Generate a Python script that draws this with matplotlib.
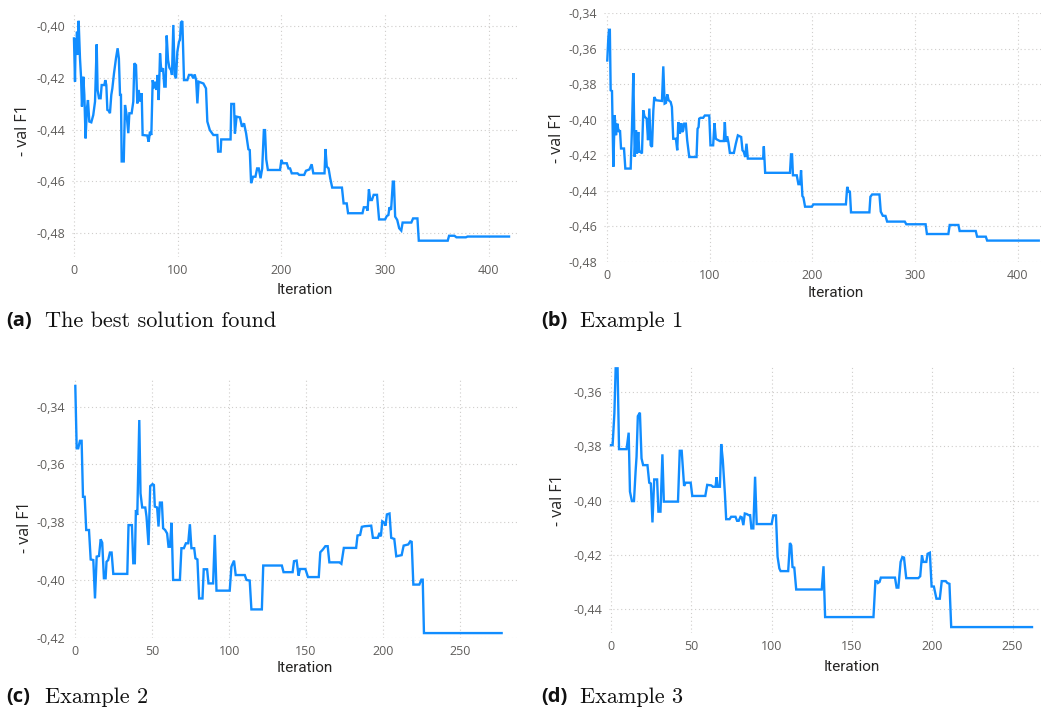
import matplotlib
matplotlib.use("Agg")
import matplotlib.pyplot as plt
from matplotlib.ticker import FuncFormatter

# ---------------------------------------------------------------
# Datos: iteracion y valor (- val F1)
# ---------------------------------------------------------------

# (a) The best solution found
a_iter = [
    0, 1, 1.6, 2.2, 2.9, 3.6, 4.5, 5.8, 6.8, 7.7,
    9, 10, 11.2, 12.5, 13.5, 14.8, 16.7, 18.6, 20.3, 21.9,
    22.8, 24.1, 25.7, 26.7, 29.3, 30.2, 31.2, 32.2, 33.8, 34.7,
    36, 37, 38.6, 40.5, 42.1, 43.3, 44.4, 45.3, 46, 48,
    49.2, 50.8, 52.4, 53.4, 55.6, 57.2, 58.2, 59.8, 61.1, 62.4,
    63.7, 65.3, 66.2, 70.7, 72, 73.3, 74.6, 75.9, 77.2, 78.5,
    79.7, 80.7, 81.7, 83, 84.2, 85.9, 87.1, 88.4, 89.4, 90.7,
    92, 93.5, 94.5, 95.8, 97.1, 98.4, 99.7, 101.3, 102.2, 103.2,
    104.5, 106.1, 109.3, 110.9, 113.5, 115, 116.4, 117.8, 119, 120.2,
    124.8, 127.3, 128.6, 131, 134.4, 138.2, 139, 141.4, 142, 151,
    151.7, 154.3, 155.2, 156.8, 160, 162, 164, 166, 168.2, 169.5,
    170.8, 172.7, 175, 176.6, 178.2, 179.9, 181.5, 183.1, 184.2, 185.4,
    187, 198.7, 200, 201.3, 205.2, 206.8, 208.4, 210, 215.6, 217.2,
    222, 223.7, 227, 229.2, 230.8, 241.6, 242.5, 243.8, 245.5, 247.1,
    249, 258.4, 260, 263, 264.3, 278.2, 279.5, 282.1, 283.1, 284.4,
    285.7, 287.3, 289, 292.2, 294.2, 300, 301.6, 303.2, 304.2, 305.8,
    307.5, 308.5, 309.7, 311.7, 313.6, 315.6, 316.9, 325.3, 327, 331.2,
    332.5, 360.4, 361.7, 366.9, 368.8, 377.9, 379.5, 419.5,
]
a_val = [
    -0.4048, -0.4215, -0.4048, -0.4112, -0.4022, -0.4112, -0.3980, -0.4125, -0.4196, -0.4311,
    -0.4196, -0.4266, -0.4434, -0.4318, -0.4286, -0.4369, -0.4372, -0.4344, -0.4292, -0.4071,
    -0.4247, -0.4279, -0.4279, -0.4228, -0.4228, -0.4209, -0.4228, -0.4324, -0.4328, -0.4337,
    -0.4266, -0.4241, -0.4183, -0.4125, -0.4086, -0.4125, -0.4266, -0.4266, -0.4523, -0.4523,
    -0.4305, -0.4344, -0.4414, -0.4337, -0.4337, -0.4292, -0.4144, -0.4151, -0.4299, -0.4247,
    -0.4292, -0.4260, -0.4421, -0.4423, -0.4447, -0.4408, -0.4421, -0.4209, -0.4241, -0.4215,
    -0.4247, -0.4189, -0.4286, -0.4106, -0.4176, -0.4163, -0.4234, -0.4234, -0.4037, -0.4131,
    -0.4161, -0.4170, -0.4189, -0.3996, -0.4189, -0.4202, -0.4099, -0.4060, -0.4054, -0.3986,
    -0.3981, -0.4209, -0.4209, -0.4189, -0.4189, -0.4202, -0.4187, -0.4209, -0.4299, -0.4215,
    -0.4222, -0.4241, -0.4369, -0.4402, -0.4421, -0.4421, -0.4485, -0.4485, -0.4438, -0.4438,
    -0.4301, -0.4301, -0.4415, -0.4350, -0.4353, -0.4389, -0.4376, -0.4415, -0.4476, -0.4479,
    -0.4607, -0.4582, -0.4582, -0.4550, -0.4550, -0.4588, -0.4550, -0.4402, -0.4402, -0.4515,
    -0.4556, -0.4556, -0.4517, -0.4530, -0.4530, -0.4550, -0.4550, -0.4569, -0.4569, -0.4575,
    -0.4575, -0.4559, -0.4554, -0.4534, -0.4569, -0.4569, -0.4475, -0.4543, -0.4550, -0.4588,
    -0.4624, -0.4624, -0.4685, -0.4685, -0.4723, -0.4723, -0.4700, -0.4700, -0.4713, -0.4631,
    -0.4672, -0.4672, -0.4652, -0.4652, -0.4747, -0.4747, -0.4734, -0.4730, -0.4700, -0.4710,
    -0.4601, -0.4601, -0.4736, -0.4749, -0.4781, -0.4790, -0.4759, -0.4759, -0.4743, -0.4743,
    -0.4829, -0.4829, -0.4810, -0.4810, -0.4816, -0.4816, -0.4813, -0.4813,
]

# (b) Example 1
b_iter = [
    0, 1.0, 1.65, 2.5, 3.3, 4.6, 5.9, 7.2, 8.5, 9.8,
    11.1, 12.4, 13.4, 16.3, 17.6, 22.8, 24.1, 25.4, 26.7, 28,
    28.9, 30.2, 31.2, 32.5, 33.8, 35.1, 36.4, 37.4, 38.4, 39.7,
    41, 42.3, 43.6, 44.9, 45.8, 47.5, 53.3, 54.6, 55.9, 57.2,
    58.5, 59.8, 61.8, 63, 64.3, 66.9, 68.2, 69.2, 70.8, 72.1,
    73, 74, 75, 76.6, 77.9, 79.9, 87, 88, 89, 89.6,
    90.9, 93.5, 95.1, 99.4, 100.6, 103.2, 104.5, 105.8, 107.1, 109.7,
    113.6, 114.6, 115.6, 116.9, 118.2, 119.5, 123.4, 125.3, 127.3, 130.5,
    131.8, 133.1, 134.4, 135.7, 137, 151.9, 152.6, 153.9, 178.1, 179.1,
    180.1, 181, 184.7, 186.3, 187.9, 188.9, 190.2, 191.2, 192.8, 199.3,
    201, 232.6, 233.9, 235.2, 236.5, 237.6, 255.5, 256.5, 258.2, 265.3,
    266.6, 268.6, 271.2, 272.8, 290, 291.5, 310.3, 311.6, 332.5, 333.8,
    342.3, 343.5, 359.2, 360.5, 369, 370.3, 420.6,
]
b_val = [
    -0.3666, -0.3540, -0.3493, -0.3493, -0.3834, -0.3838, -0.4265, -0.3975, -0.4087, -0.4022,
    -0.4069, -0.4059, -0.4162, -0.4162, -0.4275, -0.4275, -0.4040, -0.3737, -0.4209, -0.4059,
    -0.4190, -0.4069, -0.4181, -0.4181, -0.4190, -0.3947, -0.3984, -0.3988, -0.3994, -0.4115,
    -0.3937, -0.4143, -0.4153, -0.3947, -0.3872, -0.3890, -0.3894, -0.3699, -0.3909, -0.3905,
    -0.3857, -0.3890, -0.3900, -0.3928, -0.4107, -0.4107, -0.4172, -0.4013, -0.4079, -0.4019,
    -0.4069, -0.4060, -0.4022, -0.4022, -0.4116, -0.4210, -0.4210, -0.4051, -0.4041, -0.3994,
    -0.3989, -0.3989, -0.3976, -0.3976, -0.4144, -0.4144, -0.4019, -0.4107, -0.4112, -0.4120,
    -0.4120, -0.4013, -0.4125, -0.4093, -0.4131, -0.4187, -0.4187, -0.4135, -0.4088, -0.4097,
    -0.4172, -0.4181, -0.4210, -0.4135, -0.4219, -0.4219, -0.4150, -0.4299, -0.4299, -0.4195,
    -0.4195, -0.4313, -0.4313, -0.4363, -0.4363, -0.4285, -0.4430, -0.4438, -0.4490, -0.4490,
    -0.4477, -0.4477, -0.4378, -0.4406, -0.4406, -0.4522, -0.4522, -0.4434, -0.4421, -0.4421,
    -0.4518, -0.4541, -0.4542, -0.4574, -0.4574, -0.4589, -0.4589, -0.4644, -0.4644, -0.4593,
    -0.4593, -0.4627, -0.4627, -0.4659, -0.4659, -0.4681, -0.4681,
]

# (c) Example 2
c_iter = [
    0, 0.9, 1.9, 3, 4.1, 5, 6.1, 7.1, 8.9, 10,
    11.7, 12.8, 13.9, 15.4, 16.5, 17.5, 18.6, 19.7, 20.3, 21.4,
    22.5, 23.6, 24.7, 33.8, 34.6, 36.8, 37.7, 38.7, 39.4, 40.3,
    41.6, 42.4, 43.5, 45.5, 46.3, 47.6, 48.7, 50.2, 51.1, 51.7,
    53.2, 54.1, 55, 56.3, 57.1, 58.4, 59.7, 60.6, 61.5, 62.6,
    63.6, 68, 69, 70.6, 71.9, 73.4, 74.5, 75.5, 77.3, 78.1,
    79.4, 80.5, 82.7, 83.5, 85.7, 86.6, 89.6, 90.7, 91.8, 100.4,
    101.5, 103.2, 104.3, 110.2, 111.3, 113.4, 114.5, 121.3, 122.2, 134.3,
    135.4, 141.3, 142.2, 143.9, 145.2, 146.1, 149.6, 151.3, 158.3, 159.3,
    160.9, 162.6, 164.1, 165.2, 171.7, 173, 174.6, 182.6, 183.5, 185.2,
    186.3, 188, 192.4, 193.5, 196.7, 197.8, 198.7, 199.6, 200.9, 201.7,
    202.6, 204.3, 205.4, 207.4, 208.7, 212.2, 213.5, 216.5, 217.8, 218.7,
    219.8, 223.7, 225, 225.9, 226.7, 277.2,
]
c_val = [
    -0.3328, -0.3544, -0.3544, -0.3518, -0.3518, -0.3712, -0.3712, -0.3827, -0.3827, -0.3929,
    -0.3931, -0.4064, -0.3919, -0.3917, -0.3859, -0.3871, -0.3994, -0.3994, -0.3937, -0.3931,
    -0.3905, -0.3905, -0.3979, -0.3979, -0.3810, -0.3810, -0.3942, -0.3942, -0.3758, -0.3775,
    -0.3446, -0.3700, -0.3749, -0.3749, -0.3781, -0.3879, -0.3675, -0.3668, -0.3671, -0.3746,
    -0.3749, -0.3815, -0.3732, -0.3732, -0.3821, -0.3827, -0.3839, -0.3885, -0.3885, -0.3802,
    -0.4000, -0.4000, -0.3890, -0.3890, -0.3873, -0.3873, -0.3807, -0.3890, -0.3890, -0.3925,
    -0.3929, -0.4064, -0.4064, -0.3963, -0.3963, -0.4012, -0.4012, -0.3844, -0.4037, -0.4037,
    -0.3954, -0.3933, -0.3983, -0.3983, -0.4000, -0.4002, -0.4102, -0.4102, -0.3950, -0.3950,
    -0.3973, -0.3973, -0.3935, -0.3933, -0.3985, -0.3962, -0.3962, -0.3990, -0.3990, -0.3904,
    -0.3895, -0.3883, -0.3883, -0.3939, -0.3939, -0.3944, -0.3889, -0.3889, -0.3846, -0.3844,
    -0.3816, -0.3814, -0.3812, -0.3854, -0.3854, -0.3837, -0.3849, -0.3797, -0.3802, -0.3812,
    -0.3773, -0.3770, -0.3854, -0.3858, -0.3918, -0.3914, -0.3881, -0.3877, -0.3866, -0.3868,
    -0.4016, -0.4016, -0.3999, -0.3999, -0.4184, -0.4184,
]

# (d) Example 3
d_iter = [
    0, 1, 2.1, 2.9, 4.1, 5, 9.7, 11, 11.8, 13,
    14.3, 15.3, 15.9, 16.7, 18, 19, 20, 22.7, 23.8, 24.8,
    25.8, 26.9, 28.7, 29.5, 30.8, 32, 32.9, 41.7, 42.8, 44,
    45.5, 46.5, 49.6, 50.6, 58.7, 59.9, 62.4, 63.4, 65.1, 65.7,
    66.5, 67.8, 68.6, 69.6, 70.9, 71.7, 73.8, 74.8, 77.5, 78.5,
    79.5, 80.6, 81.4, 82.4, 83.3, 84.5, 85.7, 86.6, 87.4, 88.6,
    89.7, 90.7, 100, 101, 102.7, 103.7, 104.8, 105.6, 110.3, 111.4,
    112.2, 113, 114.1, 115.3, 131.2, 132.3, 133.3, 163.4, 164.6, 165.6,
    166.2, 167.2, 168, 176.8, 177.8, 178.9, 180.3, 181.4, 182.4, 183.8,
    191.3, 192.5, 193.6, 194.4, 196.3, 197.1, 198.5, 199.6, 201, 202.6,
    204.7, 205.9, 208.4, 209.4, 210.7, 211.8, 262.1,
]
d_val = [
    -0.3795, -0.3795, -0.3678, -0.3511, -0.3511, -0.3810, -0.3810, -0.3749, -0.3967, -0.4002,
    -0.4002, -0.3893, -0.3838, -0.3688, -0.3675, -0.3844, -0.3869, -0.3869, -0.3934, -0.3937,
    -0.4081, -0.3922, -0.3922, -0.4041, -0.4041, -0.3829, -0.4004, -0.4004, -0.3816, -0.3816,
    -0.3946, -0.3934, -0.3934, -0.3983, -0.3983, -0.3942, -0.3944, -0.3949, -0.3949, -0.3914,
    -0.3949, -0.3949, -0.3791, -0.3850, -0.3974, -0.4069, -0.4069, -0.4060, -0.4060, -0.4075,
    -0.4075, -0.4060, -0.4062, -0.4091, -0.4048, -0.4050, -0.4054, -0.4054, -0.4103, -0.4103,
    -0.3912, -0.4087, -0.4087, -0.4055, -0.4055, -0.4208, -0.4251, -0.4261, -0.4261, -0.4157,
    -0.4166, -0.4246, -0.4248, -0.4329, -0.4329, -0.4243, -0.4431, -0.4431, -0.4298, -0.4298,
    -0.4305, -0.4301, -0.4285, -0.4285, -0.4322, -0.4322, -0.4227, -0.4209, -0.4211, -0.4287,
    -0.4287, -0.4280, -0.4203, -0.4227, -0.4227, -0.4197, -0.4193, -0.4318, -0.4318, -0.4363,
    -0.4363, -0.4298, -0.4298, -0.4305, -0.4308, -0.4468, -0.4468,
]

# Marcas de los ejes
a_xticks = [0, 100, 200, 300, 400]
a_yticks = [-0.48, -0.46, -0.44, -0.42, -0.40]
b_xticks = [0, 100, 200, 300, 400]
b_yticks = [-0.48, -0.46, -0.44, -0.42, -0.40, -0.38, -0.36, -0.34]
c_xticks = [0, 50, 100, 150, 200, 250]
c_yticks = [-0.42, -0.40, -0.38, -0.36, -0.34]
d_xticks = [0, 50, 100, 150, 200, 250]
d_yticks = [-0.44, -0.42, -0.40, -0.38, -0.36]

# Pies de figura
captions = ["(a)", "(b)", "(c)", "(d)"]
caption_texts = ["The best solution found", "Example 1", "Example 2", "Example 3"]

#%%

W, H = 1043, 713
LINE_COLOR = "#118DFF"
TICK_COLOR = "#605E5C"
LABEL_COLOR = "#252423"
GRID_COLOR = "#CFCDCB"


def coma_decimal(v, pos):
    return f"{v:.2f}".replace(".", ",")


def panel(fig, caja, x, y, xlim, ylim, xticks, yticks, ylab_px, xlab_px):
    """
    Dibuja un panel; caja = (izquierda, derecha, arriba, abajo) en pixeles.
    """
    left, right, top, bottom = caja
    ax = fig.add_axes([left / W, 1 - bottom / H, (right - left) / W, (bottom - top) / H])

    ax.plot(x, y, color=LINE_COLOR, linewidth=1.7, solid_joinstyle="miter", zorder=3)

    ax.set_xlim(*xlim)
    ax.set_ylim(*ylim)
    ax.set_xticks(xticks)
    ax.set_yticks(yticks)
    ax.yaxis.set_major_formatter(FuncFormatter(coma_decimal))

    for s in ax.spines.values():
        s.set_visible(False)
    ax.tick_params(length=0, colors=TICK_COLOR, labelsize=9, pad=5)
    for t in ax.get_xticklabels() + ax.get_yticklabels():
        t.set_fontfamily("Open Sans")

    ax.grid(True, linestyle=(0, (1, 2.5)), color=GRID_COLOR, linewidth=0.8, zorder=0)

    # Titulos de los ejes
    ax.set_ylabel("- val F1", fontsize=11.5, color=LABEL_COLOR, family="Open Sans")
    ax.set_xlabel("Iteration", fontsize=11, color=LABEL_COLOR, family="Roboto")
    ax.yaxis.label.set_va("center")
    ax.xaxis.label.set_va("center")
    ax.yaxis.set_label_coords((ylab_px[0] - left) / (right - left),
                              (bottom - ylab_px[1]) / (bottom - top))
    ax.xaxis.set_label_coords((xlab_px[0] - left) / (right - left),
                              (bottom - xlab_px[1]) / (bottom - top))
    return ax


def pie(fig, x_px, y_px, letra, texto):
    fig.text(x_px / W, 1 - y_px / H, letra, fontsize=14.5, fontweight="bold",
             family="Open Sans", va="center", ha="left", color="#111111")
    fig.text((x_px + 39) / W, 1 - y_px / H, texto, fontsize=16,
             family="cmr10", va="center", ha="left", color="#111111")


def grafico():
    fig = plt.figure(figsize=(W / 100, H / 100), dpi=100)
    fig.patch.set_facecolor("white")

    panel(fig, (72, 517, 12, 257), a_iter, a_val, (-1.9, 427.2), (-0.4892, -0.3946),
          a_xticks, a_yticks, (23, 130), (305, 290))
    panel(fig, (604, 1041, 13.3, 261.7), b_iter, b_val, (-3.2, 422.8), (-0.48, -0.34),
          b_xticks, b_yticks, (557, 137), (836, 293))
    panel(fig, (72, 517, 379.3, 637.7), c_iter, c_val, (-2.15, 287.2), (-0.42, -0.3305),
          c_xticks, c_yticks, (25, 527), (305, 668))
    panel(fig, (609.4, 1041, 366.7, 633.3), d_iter, d_val, (-1, 267.7), (-0.4491, -0.3505),
          d_xticks, d_yticks, (558, 500), (852, 667))

    pie(fig, 6, 321, captions[0], caption_texts[0])
    pie(fig, 541, 321, captions[1], caption_texts[1])
    pie(fig, 6, 697, captions[2], caption_texts[2])
    pie(fig, 541, 697, captions[3], caption_texts[3])

    fig.savefig("out.png", dpi=100, facecolor="white")
    plt.close(fig)


if __name__ == "__main__":
    grafico()
